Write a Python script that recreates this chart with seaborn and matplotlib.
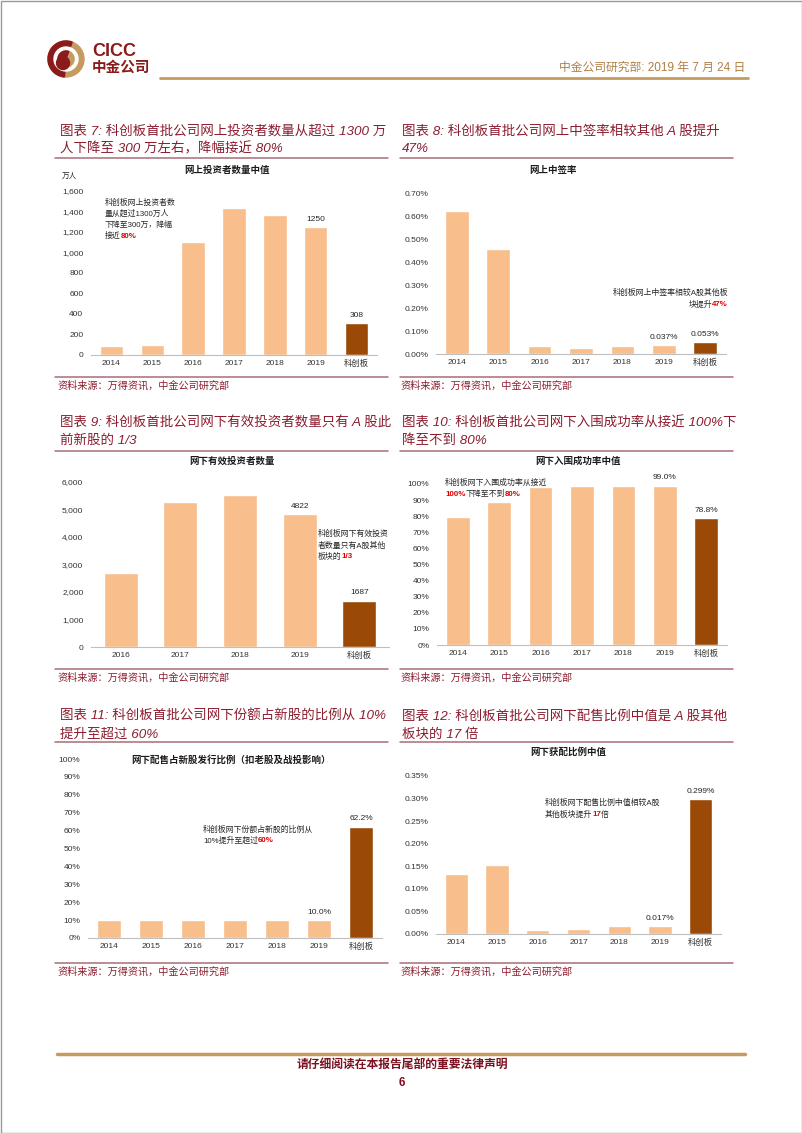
import matplotlib
matplotlib.use("Agg")
import matplotlib.pyplot as plt
import seaborn as sns
from matplotlib.patches import Circle, Wedge, Rectangle
from matplotlib.ticker import FuncFormatter

sns.set_theme(style="white")
plt.rcParams['font.family'] = ['Liberation Sans', 'Noto Sans CJK SC']

# ---- data ----
years = ["2014", "2015", "2016", "2017", "2018", "2019", "科创板"]
years_short = ["2016", "2017", "2018", "2019", "科创板"]
online_investors = [84, 97, 1101, 1438, 1367, 1250, 308]          # 万人
online_rate = [0.620, 0.455, 0.036, 0.026, 0.033, 0.037, 0.053]   # %
offline_investors = [2677, 5282, 5513, 4822, 1687]
offline_success = [79.8, 88.6, 98.3, 98.8, 98.8, 99.0, 78.8]      # %
offline_share = [10.0, 10.0, 10.0, 10.0, 10.0, 10.0, 62.2]        # %
offline_alloc = [0.132, 0.153, 0.008, 0.012, 0.017, 0.017, 0.299] # %

W, H = 802, 1133
LIGHT = "#F8BE8C"
DARK = "#9A4A06"
MAROON = "#8C1D2F"
GOLD = "#C59B5F"
RED = "#E00000"
TXT = "#262626"

fig = plt.figure(figsize=(W / 100, H / 100), dpi=100)

# overlay axes in pixel coordinates for page furniture
ax0 = fig.add_axes([0, 0, 1, 1])
ax0.set_xlim(0, W)
ax0.set_ylim(H, 0)
ax0.axis("off")
ax0.set_zorder(10)
ax0.patch.set_visible(False)


def bar_chart(box, cats, vals, ylim, ticks, fmt, labels):
    left, top, right, bottom = box
    ax = fig.add_axes([left / W, 1 - bottom / H, (right - left) / W, (bottom - top) / H])
    ax.patch.set_visible(False)
    colors = [LIGHT] * (len(cats) - 1) + [DARK]
    sns.barplot(x=cats, y=vals, hue=cats, order=cats, hue_order=cats, palette=colors,
                legend=False, width=0.57, saturation=1, ax=ax)
    ax.set_xlim(-0.5, len(cats) - 0.5)
    ax.set_ylim(*ylim)
    ax.set_yticks(ticks)
    ax.yaxis.set_major_formatter(FuncFormatter(fmt))
    ax.set_xlabel("")
    ax.set_ylabel("")
    for s in ["top", "right", "left"]:
        ax.spines[s].set_visible(False)
    ax.spines["bottom"].set_color("#BFBFBF")
    ax.spines["bottom"].set_linewidth(0.8)
    ax.tick_params(axis="both", length=0, labelsize=6, colors="#333333")
    ax.tick_params(axis="y", pad=5.5)
    ax.tick_params(axis="x", pad=3.5)
    ax.grid(False)
    for i, txt in labels:
        ax.annotate(txt, xy=(i, vals[i]), xytext=(0, 3), textcoords="offset points",
                    ha="center", va="bottom", fontsize=6, color=TXT)
    return ax


def rich(x, y, parts, size=5.7, ha="left"):
    seq = parts if ha == "left" else parts[::-1]
    prev = None
    for s, red in seq:
        kw = dict(fontsize=size, color=RED if red else TXT,
                  fontweight="bold" if red else "normal", va="center", ha=ha)
        if prev is None:
            prev = ax0.text(x, y, s, **kw)
        else:
            prev = ax0.annotate(s, xy=(1, 0.5) if ha == "left" else (0, 0.5),
                                xycoords=prev, **kw)


def block_title(x, y1, lines, sep, sep_x):
    for k, s in enumerate(lines):
        ax0.text(x, y1 + k * 18, s, fontsize=9.7, style="italic", color=MAROON, va="center")
    ax0.plot(sep_x, [sep, sep], color="#A86C75", lw=1.1)


def source(x, y, sep_x):
    ax0.plot(sep_x, [y - 8, y - 8], color="#A86C75", lw=1.1)
    ax0.text(x, y, "资料来源：万得资讯，中金公司研究部", fontsize=7.3, style="italic",
             color=MAROON, va="center")


def chart_title(x, y, s):
    ax0.text(x, y, s, fontsize=6.8, fontweight="bold", color="#1A1A1A", ha="center", va="center")


# ---- header ----
ax0.add_patch(Circle((66, 59), 18, color=GOLD))
ax0.add_patch(Wedge((66, 59), 18, 95, 290, color="#8B1A1A"))
ax0.add_patch(Wedge((66, 59), 12, 0, 360, width=2.5, color="white"))
ax0.add_patch(Circle((63, 63), 6.5, color="#8B1A1A"))
ax0.text(92, 52, "CICC", fontsize=13, fontweight="bold", color="#8B1A1A", va="center")
ax0.text(92, 68, "中金公司", fontsize=10.5, fontweight="bold", color="#8B1A1A", va="center")
ax0.text(745, 68, "中金公司研究部: 2019 年 7 月 24 日", fontsize=8.5, color="#B07F45",
         ha="right", va="center")
ax0.plot([160, 748], [78, 78], color=GOLD, lw=2)

# ---- chart 7 ----
block_title(60, 131, ["图表 7: 科创板首批公司网上投资者数量从超过 1300 万",
                      "人下降至 300 万左右，降幅接近 80%"], 158, [55, 388])
chart_title(227, 170, "网上投资者数量中值")
ax0.text(62, 176, "万人", fontsize=5.5, color=TXT, va="center")
bar_chart((91, 191, 377, 355), years, online_investors, (0, 1600), range(0, 1601, 200),
          lambda v, p: f"{v:,.0f}", [(5, "1250"), (6, "308")])
rich(105, 203, [("科创板网上投资者数", False)])
rich(105, 214, [("量从超过1300万人", False)])
rich(105, 225, [("下降至300万，降幅", False)])
rich(105, 236, [("接近", False), ("80%", True)])
source(57, 385, [55, 388])

# ---- chart 8 ----
block_title(402, 131, ["图表 8: 科创板首批公司网上中签率相较其他 A 股提升", "47%"], 158, [400, 733])
chart_title(553, 170, "网上中签率")
bar_chart((436, 193, 726, 354), years, online_rate, (0, 0.7), [i / 10 for i in range(8)],
          lambda v, p: f"{v:.2f}%", [(5, "0.037%"), (6, "0.053%")])
rich(728, 293, [("科创板网上中签率相较A股其他板", False)], ha="right")
rich(728, 305, [("块提升", False), ("47%", True)], ha="right")
source(400, 385, [400, 733])

# ---- chart 9 ----
block_title(60, 423, ["图表 9: 科创板首批公司网下有效投资者数量只有 A 股此",
                      "前新股的 1/3"], 451, [55, 388])
chart_title(232, 461, "网下有效投资者数量")
bar_chart((91, 482, 389, 647), years_short, offline_investors, (0, 6000), range(0, 6001, 1000),
          lambda v, p: f"{v:,.0f}", [(3, "4822"), (4, "1687")])
rich(318, 534, [("科创板网下有效投资", False)])
rich(318, 546, [("者数量只有A股其他", False)])
rich(318, 557, [("板块的", False), ("1/3", True)])
source(57, 677, [55, 388])

# ---- chart 10 ----
block_title(402, 423, ["图表 10: 科创板首批公司网下入围成功率从接近 100%下",
                       "降至不到 80%"], 451, [400, 733])
chart_title(578, 461, "网下入围成功率中值")
bar_chart((437, 484, 727, 645), years, offline_success, (0, 100), range(0, 101, 10),
          lambda v, p: f"{v:.0f}%", [(5, "99.0%"), (6, "78.8%")])
rich(445, 483, [("科创板网下入围成功率从接近", False)])
rich(445, 494, [("100%", True), ("下降至不到", False), ("80%", True)])
source(400, 677, [400, 733])

# ---- chart 11 ----
block_title(60, 716, ["图表 11: 科创板首批公司网下份额占新股的比例从 10%",
                      "提升至超过 60%"], 742, [55, 388])
chart_title(231, 760, "网下配售占新股发行比例（扣老股及战投影响）")
bar_chart((88, 759, 382, 938), years, offline_share, (0, 100), range(0, 101, 10),
          lambda v, p: f"{v:.0f}%", [(5, "10.0%"), (6, "62.2%")])
rich(203, 830, [("科创板网下份额占新股的比例从", False)])
rich(203, 841, [("10%提升至超过", False), ("60%", True)])
source(57, 971, [55, 388])

# ---- chart 12 ----
block_title(402, 716, ["图表 12: 科创板首批公司网下配售比例中值是 A 股其他",
                       "板块的 17 倍"], 742, [400, 733])
chart_title(568, 752, "网下获配比例中值")
bar_chart((436, 776, 721, 934), years, offline_alloc, (0, 0.35), [i * 0.05 for i in range(8)],
          lambda v, p: f"{v:.2f}%", [(5, "0.017%"), (6, "0.299%")])
rich(545, 803, [("科创板网下配售比例中值相较A股", False)])
rich(545, 815, [("其他板块提升", False), ("17", True), ("倍", False)])
source(400, 971, [400, 733])

# ---- footer ----
ax0.plot([57, 745], [1054, 1054], color=GOLD, lw=2.5)
ax0.text(402, 1066, "请仔细阅读在本报告尾部的重要法律声明", fontsize=8.5, style="italic",
         fontweight="bold", color="#7A1020", ha="center", va="center")
ax0.text(402, 1083, "6", fontsize=8.5, fontweight="bold", color="#7A1020", ha="center", va="center")
ax0.add_patch(Rectangle((0.5, 0.5), W - 1, H - 1, fill=False, ec="#9A9A9A", lw=1))

fig.savefig("out.png", dpi=100)
